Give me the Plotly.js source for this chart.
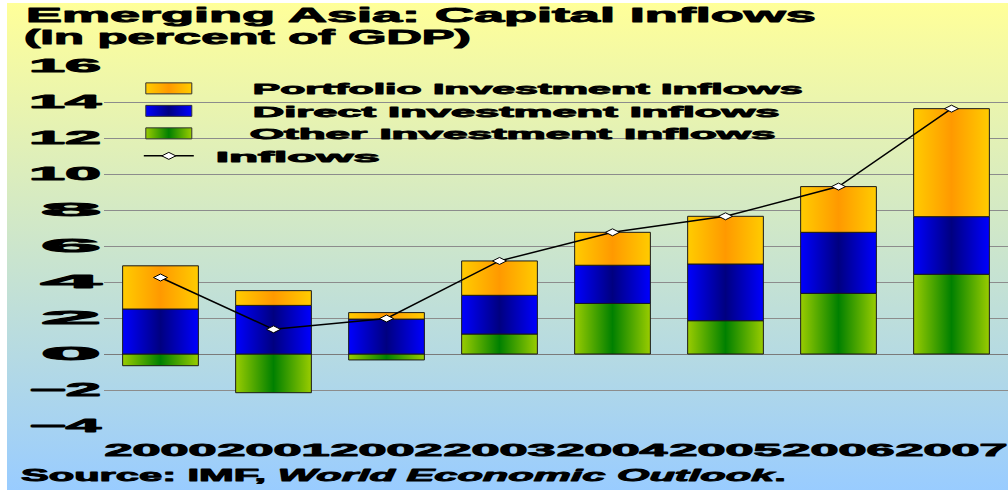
<!DOCTYPE html>
<html>
<head>
<meta charset="utf-8">
<script src="https://cdn.plot.ly/plotly-3.0.1.min.js"></script>
<style>
  html, body { margin: 0; padding: 0; background: #ffffff; }
  #wrap { position: relative; width: 1008px; height: 490px; overflow: hidden; }
  #bg { position: absolute; left: 7px; top: 3px; right: 0; bottom: 0;
        background: linear-gradient(to bottom, #ffff99 0%, #99ccff 100%); }
  #chart { position: absolute; left: 0; top: 0; width: 1008px; height: 490px; }
</style>
</head>
<body>
<div id="wrap"><div id="bg"></div><div id="chart"></div></div>
<script>
// Emerging Asia capital inflows, in percent of GDP
const years = ['2000', '2001', '2002', '2003', '2004', '2005', '2006', '2007'];
const portfolioInflows = [2.40, 0.82, 0.36, 1.91, 1.83, 2.65, 2.54, 6.00];
const directInflows    = [2.50, 2.70, 1.94, 2.15, 2.12, 3.15, 3.39, 3.20];
const otherInflows     = [-0.65, -2.15, -0.33, 1.11, 2.81, 1.85, 3.37, 4.43];
const totalInflows     = [4.25, 1.37, 1.97, 5.17, 6.76, 7.65, 9.30, 13.63];
const yTicks = [-4, -2, 0, 2, 4, 6, 8, 10, 12, 14, 16];
const boundaryTicks = [-0.5, 0.5, 1.5, 2.5, 3.5, 4.5, 5.5, 6.5];

const FONT = 'Liberation Sans, Arial, sans-serif';
const barLine = { color: '#1a1a1a', width: 1 };

const traces = [
  { type: 'bar', name: 'Other Investment Inflows', x: years, y: otherInflows,
    marker: { color: '#4c9f00', line: barLine }, width: 0.67, legendrank: 3, hoverinfo: 'skip' },
  { type: 'bar', name: 'Direct Investment Inflows', x: years, y: directInflows,
    marker: { color: '#0000c0', line: barLine }, width: 0.67, legendrank: 2, hoverinfo: 'skip' },
  { type: 'bar', name: 'Portfolio Investment Inflows', x: years, y: portfolioInflows,
    marker: { color: '#ffb300', line: barLine }, width: 0.67, legendrank: 1, hoverinfo: 'skip' },
  { type: 'scatter', mode: 'lines+markers', name: 'Inflows', x: years, y: totalInflows,
    line: { color: '#000000', width: 1.5 },
    marker: { symbol: 'diamond-wide', size: 10, color: '#ffffff', line: { color: '#000000', width: 1 } },
    legendrank: 4, hoverinfo: 'skip' }
];

const layout = {
  width: 1008, height: 490,
  paper_bgcolor: 'rgba(0,0,0,0)', plot_bgcolor: 'rgba(0,0,0,0)',
  margin: { l: 104, r: 0, t: 66, b: 64 },
  barmode: 'relative', bargap: 0.33,
  showlegend: true,
  legend: { x: 0.0385, y: 0.983, xanchor: 'left', yanchor: 'top', bgcolor: 'rgba(0,0,0,0)',
            traceorder: 'normal', itemwidth: 50, tracegroupgap: 0,
            font: { family: FONT, size: 15, color: '#000', weight: 'bold' } },
  font: { family: FONT, color: '#000' },
  xaxis: { type: 'category', range: [-0.5, 7.5], showgrid: false, showline: false, zeroline: false,
           ticks: '', tickangle: 0, ticklabelstandoff: 12,
           tickfont: { family: FONT, size: 17, weight: 'bold', color: '#000' } },
  xaxis2: { overlaying: 'x', anchor: 'free', position: 0.2, type: 'linear', range: [-0.5, 7.5],
            tickvals: boundaryTicks, ticks: 'outside', ticklen: 4, tickcolor: '#7a7a7a', tickwidth: 1,
            showticklabels: false, showgrid: false, showline: false, zeroline: false },
  yaxis: { range: [-4, 16], tickvals: yTicks, showgrid: true, gridcolor: '#8c8c8c', gridwidth: 1,
           zeroline: true, zerolinecolor: '#7a7a7a', zerolinewidth: 1, showline: false, ticks: '',
           ticklabelstandoff: 2,
           tickfont: { family: FONT, size: 18, weight: 'bold', color: '#000' } },
  annotations: [
    { xref: 'paper', yref: 'paper', x: -0.089, y: 1.177, xanchor: 'left', yanchor: 'top', align: 'left',
      showarrow: false, text: 'Emerging Asia: Capital Inflows',
      font: { family: FONT, size: 20, weight: 'bold', color: '#000' } },
    { xref: 'paper', yref: 'paper', x: -0.091, y: 1.118, xanchor: 'left', yanchor: 'top', align: 'left',
      showarrow: false, text: '(In percent of GDP)',
      font: { family: FONT, size: 20, weight: 'bold', color: '#000' } },
    { xref: 'paper', yref: 'paper', x: -0.094, y: -0.105, xanchor: 'left', yanchor: 'top', align: 'left',
      showarrow: false, text: 'Source: IMF, <i>World Economic Outlook</i>.',
      font: { family: FONT, size: 17, weight: 'bold', color: '#000' } }
  ]
};

// horizontal colour gradients for the bar fills
const gradients = {
  'Portfolio Investment Inflows': ['#ffcc00', '#ff9900', '#ffcc00'],
  'Direct Investment Inflows': ['#0000ff', '#000080', '#0000ff'],
  'Other Investment Inflows': ['#99cc00', '#008000', '#99cc00']
};

// widened label widths and legend label offsets
const legendWidths = {
  'Portfolio Investment Inflows': 550, 'Direct Investment Inflows': 527,
  'Other Investment Inflows': 526, 'Inflows': 164
};
const legendShift = {
  'Portfolio Investment Inflows': 54, 'Direct Investment Inflows': 54,
  'Other Investment Inflows': 51, 'Inflows': 17
};
const annWidths = [790, 447, 765];

function addGradients(svg) {
  const ns = 'http://www.w3.org/2000/svg';
  let defs = svg.querySelector('defs');
  if (!defs) { defs = document.createElementNS(ns, 'defs'); svg.insertBefore(defs, svg.firstChild); }
  const ids = {};
  Object.keys(gradients).forEach((name, i) => {
    const g = document.createElementNS(ns, 'linearGradient');
    const id = 'barfill' + i;
    g.setAttribute('id', id);
    g.setAttribute('x1', '0'); g.setAttribute('x2', '1'); g.setAttribute('y1', '0'); g.setAttribute('y2', '0');
    gradients[name].forEach((c, k) => {
      const s = document.createElementNS(ns, 'stop');
      s.setAttribute('offset', String(k / 2));
      s.setAttribute('stop-color', c);
      g.appendChild(s);
    });
    defs.appendChild(g);
    ids[name] = 'url(#' + id + ')';
  });
  return ids;
}

// widen a text element horizontally to width w, keeping its anchor side fixed,
// and give it a heavier black outline
function widen(el, w) {
  const ns = 'http://www.w3.org/2000/svg';
  el.style.stroke = '#000';
  el.style.strokeWidth = '0.9px';
  el.style.strokeLinejoin = 'round';
  const wrapG = document.createElementNS(ns, 'g');
  el.parentNode.insertBefore(wrapG, el);
  wrapG.appendChild(el);
  const bb = wrapG.getBBox();
  if (!bb.width) return;
  const anchor = el.getAttribute('text-anchor') || getComputedStyle(el).textAnchor || 'start';
  let ax = bb.x;
  if (anchor === 'end') ax = bb.x + bb.width;
  else if (anchor === 'middle') ax = bb.x + bb.width / 2;
  const k = w / bb.width;
  wrapG.setAttribute('transform', `translate(${ax},0) scale(${k},1) translate(${-ax},0)`);
}

const gd = document.getElementById('chart');
Plotly.newPlot(gd, traces, layout, { displayModeBar: false, staticPlot: true }).then(() => {
  const svg = gd.querySelector('.main-svg');
  const fills = addGradients(svg);

  // bar fills, in trace order
  const barNames = traces.filter(t => t.type === 'bar').map(t => t.name);
  gd.querySelectorAll('.barlayer .trace.bars').forEach((tr, i) => {
    const name = barNames[i];
    tr.querySelectorAll('.point path').forEach(p => { p.style.fill = fills[name]; });
  });

  // axis tick labels
  gd.querySelectorAll('.xtick text').forEach(t => widen(t, 112));
  gd.querySelectorAll('.ytick text').forEach(t => {
    widen(t, t.textContent.length > 1 ? 72 : 60);
  });

  // titles and source
  gd.querySelectorAll('.annotation-text').forEach((t, i) => widen(t, annWidths[i]));

  // legend: let the widened labels run past the legend box
  gd.querySelectorAll('.legend [clip-path]').forEach(el => el.removeAttribute('clip-path'));
  gd.querySelectorAll('.legend .traces').forEach(tr => {
    const txt = tr.querySelector('.legendtext');
    if (!txt) return;
    const name = txt.textContent.trim();
    const x0 = parseFloat(txt.getAttribute('x')) || 0;
    txt.setAttribute('x', x0 + (legendShift[name] || 0));
    if (legendWidths[name]) widen(txt, legendWidths[name]);
    if (fills[name]) {
      tr.querySelectorAll('.legendpoints path').forEach(p => {
        p.setAttribute('d', 'M-23,-5.5H23V5.5H-23Z');
        p.style.fill = fills[name];
        p.style.stroke = '#333';
        p.style.strokeWidth = '1px';
      });
    }
  });
});
</script>
</body>
</html>
